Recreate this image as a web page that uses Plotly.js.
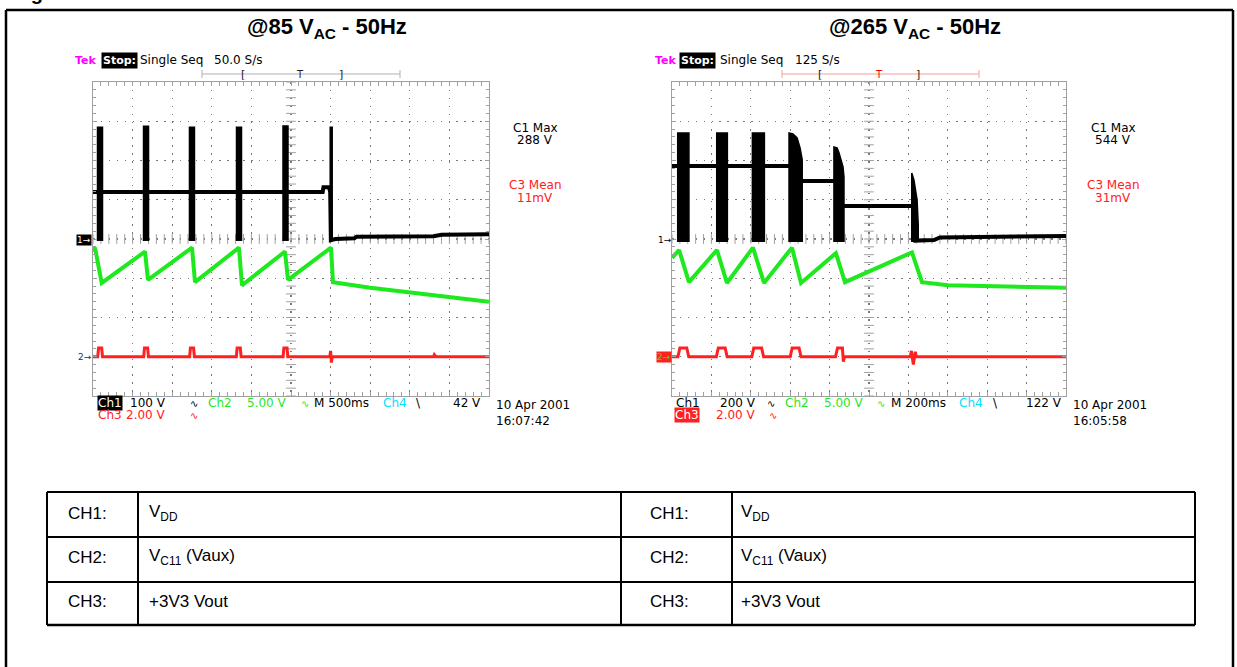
<!DOCTYPE html>
<html><head><meta charset="utf-8">
<script src="https://cdn.plot.ly/plotly-3.0.1.min.js"></script>
<style>html,body{margin:0;padding:0;background:#fff;overflow:hidden}#chart{width:1237px;height:667px}</style>
</head><body><div id="chart"></div>
<script>
// ---------------- DATA ----------------
const LEFT_TITLE = '@85 V<sub>AC</sub> - 50Hz';
const RIGHT_TITLE = '@265 V<sub>AC</sub> - 50Hz';

// Left scope: 500 ms/div (0..5 s), CH1 100 V/div, CH2 5 V/div, CH3 2 V/div
const L_CH1_T = [0, 2.90, 2.91, 2.98, 2.995, 3.003, 3.06, 3.30, 3.33, 4.30, 4.40, 5.00];
const L_CH1_V = [120, 120, 132, 132, 120, -3, 0, 2, 6, 7, 11, 12];
const L_SPIKE_T0 = [0.057, 0.638, 1.218, 1.812, 2.399, 2.995];
const L_SPIKE_T1 = [0.120, 0.701, 1.281, 1.875, 2.462, 3.020];
const L_SPIKE_TOP = [285, 287, 285, 285, 288, 285];
const L_SPIKE_BOTTOM = [-5, -5, -5, -5, -5, -3];
const L_CH2_T = [0, 0.025, 0.11, 0.657, 0.694, 1.25, 1.288, 1.843, 1.881, 2.424, 2.462, 3.005, 3.03, 3.50, 4.25, 5.00];
const L_CH2_V = [13.4, 13.9, 9.4, 13.4, 9.8, 13.9, 9.5, 13.9, 9.1, 13.4, 9.8, 13.9, 9.5, 8.8, 7.9, 7.0];
const L_CH3_T = [0, 0.06, 0.07, 0.11, 0.12, 0.64, 0.65, 0.69, 0.70, 1.22, 1.23, 1.27, 1.28, 1.81, 1.82, 1.86, 1.87,
                 2.40, 2.41, 2.45, 2.46, 2.99, 3.00, 3.01, 3.02, 4.30, 4.31, 4.33, 5.00];
const L_CH3_V = [0, 0, 0.45, 0.45, 0, 0, 0.45, 0.45, 0, 0, 0.45, 0.45, 0, 0, 0.45, 0.45, 0,
                 0, 0.45, 0.45, 0, 0, 0.3, -0.3, 0, 0, 0.1, 0, 0];

// Right scope: 200 ms/div (0..2 s), CH1 200 V/div, CH2 5 V/div, CH3 2 V/div
const R_CH1_T = [0, 0.63, 0.63, 0.84, 0.84, 1.23, 1.235, 1.33, 1.36, 1.55, 2.00];
const R_CH1_V = [372, 372, 296, 296, 168, 168, -8, -5, 8, 10, 15];
const R_BLOCK_TOP_T = [[0.029, 0.086], [0.227, 0.281], [0.408, 0.469],
                       [0.594, 0.614, 0.635, 0.650, 0.661],
                       [0.822, 0.838, 0.848, 0.868, 0.873],
                       [1.217, 1.228, 1.244, 1.250]];
const R_BLOCK_TOP_V = [[540, 540], [540, 540], [540, 540],
                       [540, 535, 515, 464, 403],
                       [469, 464, 438, 367, 316],
                       [336, 301, 199, 71]];
const R_BLOCK_BOTTOM = -15;
const R_CH2_T = [0, 0.036, 0.086, 0.228, 0.279, 0.411, 0.467, 0.609, 0.655, 0.832, 0.878, 1.218, 1.269, 1.40, 2.00];
const R_CH2_V = [12.6, 13.6, 9.5, 13.6, 9.4, 13.9, 9.4, 13.9, 9.4, 13.2, 9.5, 13.3, 9.5, 9.1, 8.8];
const R_CH3_T = [0, 0.03, 0.04, 0.075, 0.085, 0.225, 0.235, 0.27, 0.28, 0.405, 0.415, 0.455, 0.465,
                 0.60, 0.61, 0.645, 0.655, 0.83, 0.84, 0.865, 0.87, 0.875, 1.21, 1.215, 1.225, 1.235, 1.24, 2.00];
const R_CH3_V = [0, 0, 0.45, 0.45, 0, 0, 0.45, 0.45, 0, 0, 0.45, 0.45, 0,
                 0, 0.45, 0.45, 0, 0, 0.45, 0.45, -0.25, 0, 0, 0.3, -0.4, 0.25, 0, 0];

const TABLE_LABELS = ['CH1:', 'CH2:', 'CH3:'];
const TABLE_SIGNALS = ['V<sub>DD</sub>', 'V<sub>C11</sub> (Vaux)', '+3V3 Vout'];

// ---------------- LAYOUT HELPERS ----------------
const W = 1237, H = 667;
const PX = x => x / W, PY = y => 1 - y / H;
const SC = 'DejaVu Sans, sans-serif';
const TF = 'Liberation Sans, Arial, sans-serif';
const GREEN = '#1ee81e', RED = '#ff2020', MAG = '#ff00ff', CYAN = '#00e0ff';
const GRID = '#7a7a7a', BORDER = '#a0a0a0';

function gratX(dom, range, dtick, mdtick, anchor) {
  return {domain: dom, range: range, anchor: anchor, dtick: dtick, tick0: 0,
    showgrid: true, gridcolor: GRID, gridwidth: 1.3, griddash: '1.5px,6.4px',
    showline: true, linecolor: BORDER, linewidth: 1, mirror: 'allticks',
    ticks: 'inside', ticklen: 4, tickcolor: BORDER, tickwidth: 1,
    minor: {dtick: mdtick, tick0: 0, ticks: 'inside', ticklen: 3, tickcolor: BORDER, showgrid: false},
    showticklabels: false, zeroline: false, fixedrange: true};
}
const LX = [PX(93), PX(489)], RX = [PX(672), PX(1066)], SY = [PY(396), PY(82)];

const traces = [];
function grat(xa, ya, xr, yr) {
  // centre-line tick marks (graticule decoration)
  const cx = (xr[0] + xr[1]) / 2, cy = (yr[0] + yr[1]) / 2;
  const tx = [], ty = [], hx = [], hy = [];
  for (let i = 0; i <= 50; i++) { tx.push(xr[0] + (xr[1] - xr[0]) * i / 50); ty.push(cy); }
  for (let i = 0; i <= 40; i++) { hy.push(yr[0] + (yr[1] - yr[0]) * i / 40); hx.push(cx); }
  traces.push({x: tx, y: ty, xaxis: xa, yaxis: ya, mode: 'markers', hoverinfo: 'skip',
    marker: {symbol: 'line-ns', size: 7, color: BORDER, line: {color: BORDER, width: 1}}});
  traces.push({x: hx, y: hy, xaxis: xa, yaxis: ya, mode: 'markers', hoverinfo: 'skip',
    marker: {symbol: 'line-ew', size: 7, color: BORDER, line: {color: BORDER, width: 1}}});
}
grat('x', 'y', [0, 5], [-400, 400]);
grat('x2', 'y4', [0, 2], [-800, 800]);

// Left CH1
traces.push({x: L_CH1_T, y: L_CH1_V, xaxis: 'x', yaxis: 'y', mode: 'lines', line: {color: '#000', width: 4}, hoverinfo: 'skip'});
for (let i = 0; i < L_SPIKE_T0.length; i++) {
  traces.push({x: [L_SPIKE_T0[i], L_SPIKE_T0[i], L_SPIKE_T1[i], L_SPIKE_T1[i]],
    y: [L_SPIKE_BOTTOM[i], L_SPIKE_TOP[i], L_SPIKE_TOP[i], L_SPIKE_BOTTOM[i]],
    xaxis: 'x', yaxis: 'y', mode: 'lines', fill: 'toself', fillcolor: '#000',
    line: {color: '#000', width: 1.5}, hoverinfo: 'skip'});
}
traces.push({x: L_CH2_T, y: L_CH2_V, xaxis: 'x', yaxis: 'y2', mode: 'lines', line: {color: GREEN, width: 4}, hoverinfo: 'skip'});
traces.push({x: L_CH3_T, y: L_CH3_V, xaxis: 'x', yaxis: 'y3', mode: 'lines', line: {color: RED, width: 3}, hoverinfo: 'skip'});

// Right CH1
traces.push({x: R_CH1_T, y: R_CH1_V, xaxis: 'x2', yaxis: 'y4', mode: 'lines', line: {color: '#000', width: 4}, hoverinfo: 'skip'});
for (let i = 0; i < R_BLOCK_TOP_T.length; i++) {
  const tt = R_BLOCK_TOP_T[i], vv = R_BLOCK_TOP_V[i];
  traces.push({x: [tt[0]].concat(tt, [tt[tt.length - 1]]),
    y: [R_BLOCK_BOTTOM].concat(vv, [R_BLOCK_BOTTOM]),
    xaxis: 'x2', yaxis: 'y4', mode: 'lines', fill: 'toself', fillcolor: '#000',
    line: {color: '#000', width: 1.5}, hoverinfo: 'skip'});
}
traces.push({x: R_CH2_T, y: R_CH2_V, xaxis: 'x2', yaxis: 'y5', mode: 'lines', line: {color: GREEN, width: 4}, hoverinfo: 'skip'});
traces.push({x: R_CH3_T, y: R_CH3_V, xaxis: 'x2', yaxis: 'y6', mode: 'lines', line: {color: RED, width: 3}, hoverinfo: 'skip'});

// ---------------- ANNOTATIONS ----------------
const ann = [];
function A(text, x, y, o) {
  o = o || {};
  ann.push(Object.assign({text: text, x: PX(x), y: PY(y), xref: 'paper', yref: 'paper', showarrow: false,
    xanchor: 'left', yanchor: 'middle', borderpad: 0,
    font: {family: SC, size: 12, color: '#000'}}, o));
}
function F(size, color, fam) { return {family: fam || SC, size: size, color: color || '#000'}; }

// caption fragment and titles
A('<b>Figure</b>', 12, 5, {yanchor: 'bottom', font: F(20, '#000', TF)});
A('<b>' + LEFT_TITLE + '</b>', 327, 28, {xanchor: 'center', font: F(22, '#000', TF)});
A('<b>' + RIGHT_TITLE + '</b>', 915, 28, {xanchor: 'center', font: F(22, '#000', TF)});

// scope headers
A('<b>Tek</b>', 74, 60, {font: F(11, MAG)});
A('<b>Stop:</b>', 101, 60, {font: F(11, '#fff'), bgcolor: '#000', borderpad: 1});
A('Single Seq', 139, 60);
A('50.0 S/s', 213, 60);
A('<b>Tek</b>', 654, 60, {font: F(11, MAG)});
A('<b>Stop:</b>', 679, 60, {font: F(11, '#fff'), bgcolor: '#000', borderpad: 1});
A('Single Seq', 719, 60);
A('125 S/s', 794, 60);

// trigger brackets
A('[', 243, 74, {xanchor: 'center', font: F(11, '#222')});
A('T', 300, 74, {xanchor: 'center', font: F(10, '#222')});
A(']', 341, 74, {xanchor: 'center', font: F(11, '#222')});
A('[', 820, 74, {xanchor: 'center', font: F(11, '#222')});
A('T', 879, 74, {xanchor: 'center', font: F(10, '#f00')});
A(']', 918, 74, {xanchor: 'center', font: F(11, '#222')});

// measurements
A('C1 Max', 535, 128, {xanchor: 'center'});
A('288 V', 535, 140, {xanchor: 'center'});
A('C3 Mean', 535, 185.5, {xanchor: 'center', font: F(12, RED)});
A('11mV', 535, 197.5, {xanchor: 'center', font: F(12, RED)});
A('C1 Max', 1113, 128, {xanchor: 'center'});
A('544 V', 1113, 140, {xanchor: 'center'});
A('C3 Mean', 1113, 185.5, {xanchor: 'center', font: F(12, RED)});
A('31mV', 1113, 197.5, {xanchor: 'center', font: F(12, RED)});

// ground markers
A('1→', 76, 240, {font: F(9, '#fff'), bgcolor: '#000'});
A('2→', 77, 357, {font: F(9, '#333')});
A('1→', 657, 240, {font: F(9, '#000')});
A('2→', 656, 357, {font: F(9, GREEN), bgcolor: RED});

// bottom status lines, left
A('Ch1', 97, 403, {font: F(12, '#fff'), bgcolor: '#000'});
A('100 V', 167, 403, {xanchor: 'right'});
A('∿', 189, 403, {font: F(10, '#000')});
A('Ch2', 207, 403, {font: F(12, GREEN)});
A('5.00 V', 288, 403, {xanchor: 'right', font: F(12, GREEN)});
A('∿', 300, 403, {font: F(10, GREEN)});
A('M 500ms', 313, 403);
A('Ch4', 382, 403, {font: F(12, CYAN)});
A('\\', 415, 403);
A('42 V', 482, 403, {xanchor: 'right'});
A('Ch3', 97, 415, {font: F(12, RED)});
A('2.00 V', 167, 415, {xanchor: 'right', font: F(12, RED)});
A('∿', 189, 415, {font: F(10, RED)});
A('10 Apr 2001', 495, 405);
A('16:07:42', 495, 421);

// bottom status lines, right
A('Ch1', 675, 403);
A('200 V', 757, 403, {xanchor: 'right'});
A('∿', 766, 403, {font: F(10, '#000')});
A('Ch2', 784, 403, {font: F(12, GREEN)});
A('5.00 V', 865, 403, {xanchor: 'right', font: F(12, GREEN)});
A('∿', 876, 403, {font: F(10, GREEN)});
A('M 200ms', 890, 403);
A('Ch4', 958, 403, {font: F(12, CYAN)});
A('\\', 992, 403);
A('122 V', 1063, 403, {xanchor: 'right'});
A('Ch3', 674, 415, {font: F(12, '#fff'), bgcolor: RED});
A('2.00 V', 757, 415, {xanchor: 'right', font: F(12, RED)});
A('∿', 768, 415, {font: F(10, RED)});
A('10 Apr 2001', 1072, 405);
A('16:05:58', 1072, 421);

// table text
const ROW_Y = [513, 557, 601];
for (let i = 0; i < 3; i++) {
  A(TABLE_LABELS[i], 67, ROW_Y[i], {font: F(17, '#000', TF)});
  A(TABLE_SIGNALS[i], 148, ROW_Y[i], {font: F(17, '#000', TF)});
  A(TABLE_LABELS[i], 649, ROW_Y[i], {font: F(17, '#000', TF)});
  A(TABLE_SIGNALS[i], 740, ROW_Y[i], {font: F(17, '#000', TF)});
}

// ---------------- SHAPES (frame, table, trigger bars) ----------------
const shapes = [];
function L(x0, y0, x1, y1, color, w) {
  shapes.push({type: 'line', xref: 'paper', yref: 'paper', x0: PX(x0), y0: PY(y0), x1: PX(x1), y1: PY(y1),
    line: {color: color, width: w}});
}
L(6, 10, 1233, 10, '#000', 2.5);
L(6, 10, 6, 667, '#000', 2.5);
L(1233, 10, 1233, 667, '#000', 2.5);
// table
L(47, 492, 1195, 492, '#000', 2);
L(47, 537, 1195, 537, '#000', 2);
L(47, 582, 1195, 582, '#000', 2);
L(47, 625, 1195, 625, '#000', 2.5);
[47, 138, 621, 732, 1195].forEach(x => L(x, 492, x, 625, '#000', 2));
// trigger position bars
L(202, 74, 400, 74, '#b0b0b0', 1);
L(202, 70, 202, 78, '#b0b0b0', 1);
L(400, 70, 400, 78, '#b0b0b0', 1);
L(782, 74, 979, 74, '#f2a0a0', 1);
L(782, 70, 782, 78, '#f2a0a0', 1);
L(979, 70, 979, 78, '#f2a0a0', 1);

const layout = {
  width: W, height: H, margin: {l: 0, r: 0, t: 0, b: 0}, paper_bgcolor: '#fff', plot_bgcolor: '#fff',
  showlegend: false, hovermode: false,
  xaxis: gratX(LX, [0, 5], 0.5, 0.1, 'y'),
  yaxis: gratX(SY, [-400, 400], 100, 20, 'x'),
  yaxis2: {overlaying: 'y', anchor: 'x', range: [-5, 35], visible: false, fixedrange: true},
  yaxis3: {overlaying: 'y', anchor: 'x', range: [-2, 14], visible: false, fixedrange: true},
  xaxis2: gratX(RX, [0, 2], 0.2, 0.04, 'y4'),
  yaxis4: gratX(SY, [-800, 800], 200, 40, 'x2'),
  yaxis5: {overlaying: 'y4', anchor: 'x2', range: [-5, 35], visible: false, fixedrange: true},
  yaxis6: {overlaying: 'y4', anchor: 'x2', range: [-2, 14], visible: false, fixedrange: true},
  annotations: ann, shapes: shapes
};
Plotly.newPlot('chart', traces, layout, {staticPlot: true, displayModeBar: false});
</script></body></html>
